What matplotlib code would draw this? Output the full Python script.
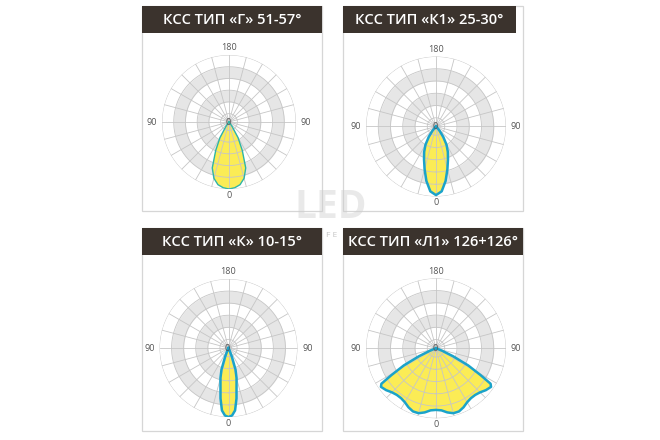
import numpy as np
import matplotlib
matplotlib.use("Agg")
import matplotlib.pyplot as plt
from matplotlib.patches import Rectangle

# ---------------- data ----------------
titles = ["КСС ТИП «Г» 51-57°", "КСС ТИП «К1» 25-30°",
          "КСС ТИП «К» 10-15°", "КСС ТИП «Л1» 126+126°"]

angles_g = [0, 5, 10, 15, 20, 25, 30, 35, 40, 45]
r_g = [1.0, 0.985, 0.95, 0.87, 0.73, 0.47, 0.27, 0.08, 0.01, 0.0]

angles_k1 = [0, 5, 10, 15, 20, 25, 30, 35, 40, 45, 50]
r_k1 = [0.98, 0.93, 0.79, 0.63, 0.50, 0.40, 0.30, 0.18, 0.08, 0.02, 0.0]

angles_k = [0, 3, 6, 9, 12, 15, 18, 21, 25, 30]
r_k = [1.0, 0.98, 0.91, 0.74, 0.56, 0.45, 0.33, 0.14, 0.03, 0.0]

angles_l1 = [0, 5, 10, 15, 20, 25, 30, 35, 40, 45, 50, 55, 57, 59, 62, 65, 68, 72, 75]
r_l1 = [0.88, 0.89, 0.93, 0.96, 0.96, 0.93, 0.89, 0.87, 0.87, 0.89, 0.93, 0.96,
        0.93, 0.74, 0.52, 0.27, 0.10, 0.02, 0.0]

axis_labels = ["180", "90", "90", "0", "0"]
watermark = ["LED", "F E"]

# ---------------- layout (pixels) ----------------
W, H = 660, 440
panels = [
    dict(box=(142, 6, 322, 211), head=(142, 6, 322, 33), c=(229, 122), rad=67,
         ang=angles_g, r=r_g, ec="#2fb5a6", lw=1.0),
    dict(box=(343, 6, 523, 211), head=(343, 6, 516, 33), c=(436, 126.5), rad=70,
         ang=angles_k1, r=r_k1, ec="#1ba3c9", lw=1.8),
    dict(box=(142, 228, 322, 431), head=(142, 228, 322, 255), c=(228.5, 348), rad=69,
         ang=angles_k, r=r_k, ec="#1ba3c9", lw=1.8),
    dict(box=(343, 228, 523, 431), head=(343, 228, 523, 255), c=(436, 348.3), rad=70,
         ang=angles_l1, r=r_l1, ec="#1ba3c9", lw=1.8),
]

fig = plt.figure(figsize=(W / 100, H / 100), dpi=100)
fig.patch.set_facecolor("white")


def fx(x):
    return x / W


def fy(y):
    return 1 - y / H


for i, p in enumerate(panels):
    x0, y0, x1, y1 = p["box"]
    fig.add_artist(Rectangle((fx(x0), fy(y1)), (x1 - x0) / W, (y1 - y0) / H,
                             transform=fig.transFigure, facecolor="white",
                             edgecolor="#d6d6d6", linewidth=0.9, zorder=1))
    hx0, hy0, hx1, hy1 = p["head"]
    fig.add_artist(Rectangle((fx(hx0), fy(hy1)), (hx1 - hx0) / W, (hy1 - hy0) / H,
                             transform=fig.transFigure, facecolor="#3b332d",
                             edgecolor="none", zorder=2))
    fig.text(fx((hx0 + hx1) / 2), fy((hy0 + hy1) / 2 + 0.5), titles[i], color="white",
             fontsize=10.5, fontweight="semibold", family="Open Sans",
             ha="center", va="center", zorder=3)

    cx, cy = p["c"]
    R = p["rad"]
    ax = fig.add_axes([fx(cx - R), fy(cy + R), 2 * R / W, 2 * R / H],
                      projection="polar", zorder=4)
    ax.set_theta_zero_location("S")
    ax.set_ylim(0, 1)
    ax.set_axis_off()
    ax.patch.set_alpha(0)

    th = np.linspace(0, 2 * np.pi, 361)
    edges = [1.0, 0.825, 0.65, 0.475, 0.3, 0.125]
    for (ro, ri) in [(0.825, 0.65), (0.475, 0.3)]:
        ax.fill_between(th, ri, ro, color="#e6e6e6", lw=0, zorder=0)
    a = np.deg2rad(np.array(p["ang"], dtype=float))
    rr = np.array(p["r"], dtype=float)
    ta = np.concatenate([-a[::-1], a[1:]])
    ra = np.concatenate([rr[::-1], rr[1:]])
    ax.fill(ta, ra, color="#fbec55", lw=0, zorder=1)
    for e in edges:
        ax.plot(th, np.full_like(th, e), color="#c6c6c6", lw=0.6, zorder=2)
    ax.plot(th, np.full_like(th, 0.04), color="#999999", lw=0.6, zorder=2)
    for d in np.arange(0, 360, 15):
        ax.plot([np.deg2rad(d)] * 2, [0, 1], color="#c6c6c6", lw=0.6, zorder=2)
    ax.plot(ta, ra, color=p["ec"], lw=p["lw"], zorder=3, solid_joinstyle="round")

    lab_kw = dict(fontsize=6.5, color="#555555", ha="center", va="center",
                  family="Open Sans", zorder=6)
    fig.text(fx(cx), fy(cy - R - 7), axis_labels[0], **lab_kw)
    fig.text(fx(cx - R - 10), fy(cy), axis_labels[1], **lab_kw)
    fig.text(fx(cx + R + 10), fy(cy), axis_labels[2], **lab_kw)
    fig.text(fx(cx), fy(cy + R + 6), axis_labels[3], **lab_kw)
    fig.text(fx(cx - 1), fy(cy), axis_labels[4], **lab_kw)

# semi-transparent watermark over the panels
fig.text(fx(331), fy(208), watermark[0], fontsize=28, fontweight="bold",
         color="#cfcfcf", alpha=0.45, ha="center", va="center",
         family="Open Sans", zorder=10)
fig.text(fx(332), fy(235), watermark[1], fontsize=6, color="#c4c4c4",
         ha="center", va="center", family="Open Sans", zorder=10)

fig.savefig("out.png", dpi=100, facecolor="white")
